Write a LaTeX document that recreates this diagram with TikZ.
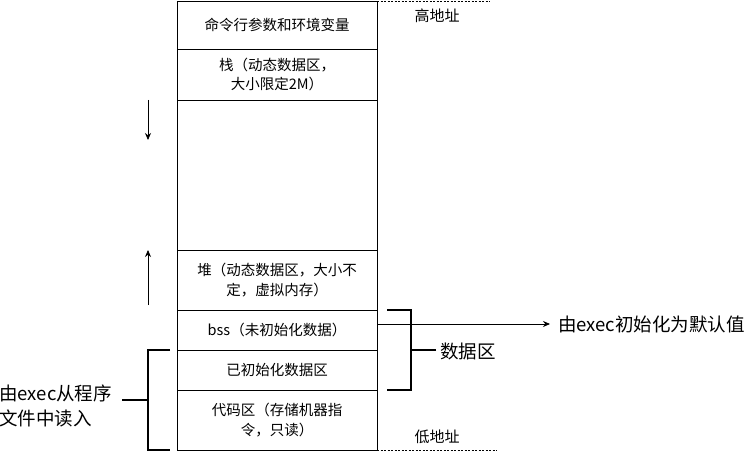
\documentclass[tikz,border=0pt]{standalone}
\usepackage{fontspec}
\setmainfont{Noto Sans CJK SC}
\usetikzlibrary{arrows.meta,positioning}

\begin{document}
\begin{tikzpicture}[x=1pt,y=-1pt,
every node/.style={outer sep=0pt},
seg/.style={draw,line width=0.8pt,minimum width=200pt,align=center,inner sep=0pt,
  font=\fontsize{14.5}{19.5}\selectfont},
side/.style={font=\fontsize{18.5}{25}\selectfont,inner sep=4pt},
brack/.style={line width=1.6pt},
addr/.style={line width=0.8pt,dash pattern=on 2pt off 1.5pt},
growarrow/.style={line width=0.8pt,-{Stealth[length=7pt,width=6pt]}}]
\useasboundingbox (0,0) rectangle (748,452);
% memory segments, top to bottom
\node[seg,minimum height=48pt,anchor=north] (args) at (277,1) {命令行参数和环境变量};
\node[seg,minimum height=51pt,below=0pt of args] (stack) {栈（动态数据区，\\大小限定2M）};
\node[seg,minimum height=150pt,below=0pt of stack] (free) {};
\node[seg,minimum height=60pt,below=0pt of free] (heap) {堆（动态数据区，大小不\\定，虚拟内存）};
\node[seg,minimum height=40pt,below=0pt of heap] (bss) {bss（未初始化数据）};
\node[seg,minimum height=40pt,below=0pt of bss] (data) {已初始化数据区};
\node[seg,minimum height=60pt,below=0pt of data] (code) {代码区（存储机器指\\令，只读）};
% address marks
\node[font=\fontsize{15}{18}\selectfont] (hi) at (437,16) {高地址};
\node[font=\fontsize{15}{18}\selectfont] (lo) at (437,437) {低地址};
\draw[addr] (args.north east) -- ++(113,0);
\draw[addr] (code.south east) -- ++(120,0);
% growth of stack and heap
\coordinate (stackTail) at (148,100);
\coordinate (stackTip) at (148,140);
\coordinate (heapTail) at (148,305);
\coordinate (heapTip) at (148,250);
\draw[growarrow] (stackTail) -- (stackTip);
\draw[growarrow] (heapTail) -- (heapTip);
% labels on the side
\node[side,anchor=west,inner sep=8pt] (init) at (550,324) {由exec初始化为默认值};
\draw[growarrow] ([yshift=6pt]bss.east) -- (init.west);
\node[side,anchor=west] (datalbl) at (436,351) {数据区};
\draw[brack] ([xshift=10pt]bss.north east) -- ++(24,0) |- ([xshift=10pt]data.south east);
\draw[brack] ([yshift=1pt]datalbl.west) -- ++(-25,0);
\node[side,anchor=east,align=left,inner sep=2pt] (load) at (114,406) {由exec从程序\\文件中读入};
\draw[brack] ([xshift=-7pt]data.north west) -- ++(-22,0) |- ([xshift=-7pt]code.south west);
\draw[brack] ([yshift=6pt,xshift=8pt]load.east) -- ++(26,0);
\end{tikzpicture}
\end{document}
